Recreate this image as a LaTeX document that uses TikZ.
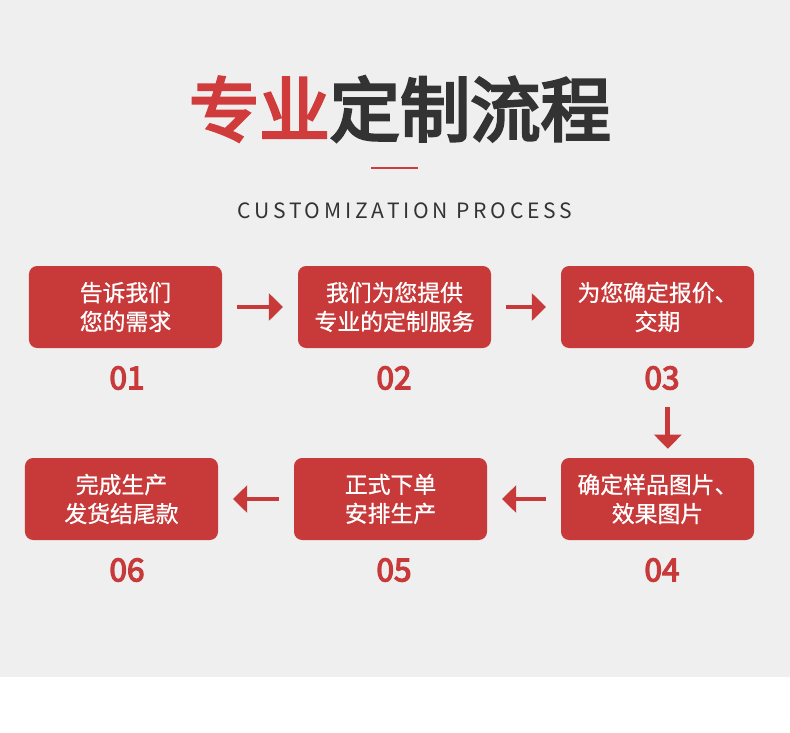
\documentclass[tikz,border=0pt]{standalone}
\usepackage{fontspec}
\newfontfamily\cjk{Noto Sans CJK SC}
\newfontfamily\cjkmid{Noto Sans CJK SC}[FakeBold=0.8]
\newfontfamily\cjkheavy{Noto Sans CJK SC}[FakeBold=4]
\newfontfamily\cjkwide{Noto Sans CJK SC}[LetterSpace=18]
\usetikzlibrary{arrows.meta}
\usetikzlibrary{positioning}
\definecolor{boxred}{HTML}{C83A3A}
\definecolor{titlered}{HTML}{D03B3B}
\definecolor{ink}{HTML}{333333}
\definecolor{paper}{HTML}{EFEFEF}

\begin{document}
\begin{tikzpicture}[x=0.03cm, y=-0.03cm,
    box/.style={fill=boxred, rounded corners=7pt, minimum width=5.79cm, minimum height=2.46cm,
        inner sep=0pt, align=center, text=white, font=\cjkmid\fontsize{19.5}{24.7}\selectfont},
    num/.style={text=boxred, inner sep=0pt, font=\cjkheavy\fontsize{27}{27}\selectfont},
    flow/.style={draw=boxred, line width=4.2pt, -{Triangle[width=23pt,length=12pt]},
        shorten >=12.7pt, shorten <=12.7pt}]
        \fill[white] (0,0) rectangle (790,732);
        \fill[paper] (0,0) rectangle (790,677);
        \useasboundingbox (0,0) rectangle (790,732);
        % heading
        \node[text=ink, font=\cjkheavy\fontsize{60}{60}\selectfont] (title) at (400,109) {\textcolor{titlered}{专业}定制流程};
        \draw[titlered, line width=1.8pt] (371,168) -- (418,168);
        \node[text=ink, font=\cjkwide\fontsize{18}{18}\selectfont] (subtitle) at (405,211) {CUSTOMIZATION PROCESS};
        % steps
        \node[box] (b1) at (125.5,307) {告诉我们\\您的需求};
        \node[box] (b2) at (394.5,307) {我们为您提供\\专业的定制服务};
        \node[box] (b3) at (657.5,307) {为您确定报价、\\交期};
        \node[box] (b4) at (657.5,499) {确定样品图片、\\效果图片};
        \node[box] (b5) at (390.5,499) {正式下单\\安排生产};
        \node[box] (b6) at (121.5,499) {完成生产\\发货结尾款};
        \node[num] (n1) at (127,378) {01};
        \node[num] (n2) at (394,378) {02};
        \node[num] (n3) at (662,378) {03};
        \node[num] (n4) at (662,570) {04};
        \node[num] (n5) at (394,570) {05};
        \node[num] (n6) at (127,570) {06};
        % arrows
        \draw[flow] (b1) -- (b2);
        \draw[flow] (b2) -- (b3);
        \draw[flow, shorten <=24.6pt, shorten >=7.7pt] ([xshift=5]n3.center) -- ([xshift=5]n3.center |- b4.north);
        \draw[flow] (b4) -- (b5);
        \draw[flow] (b5) -- (b6);
\end{tikzpicture}
\end{document}
